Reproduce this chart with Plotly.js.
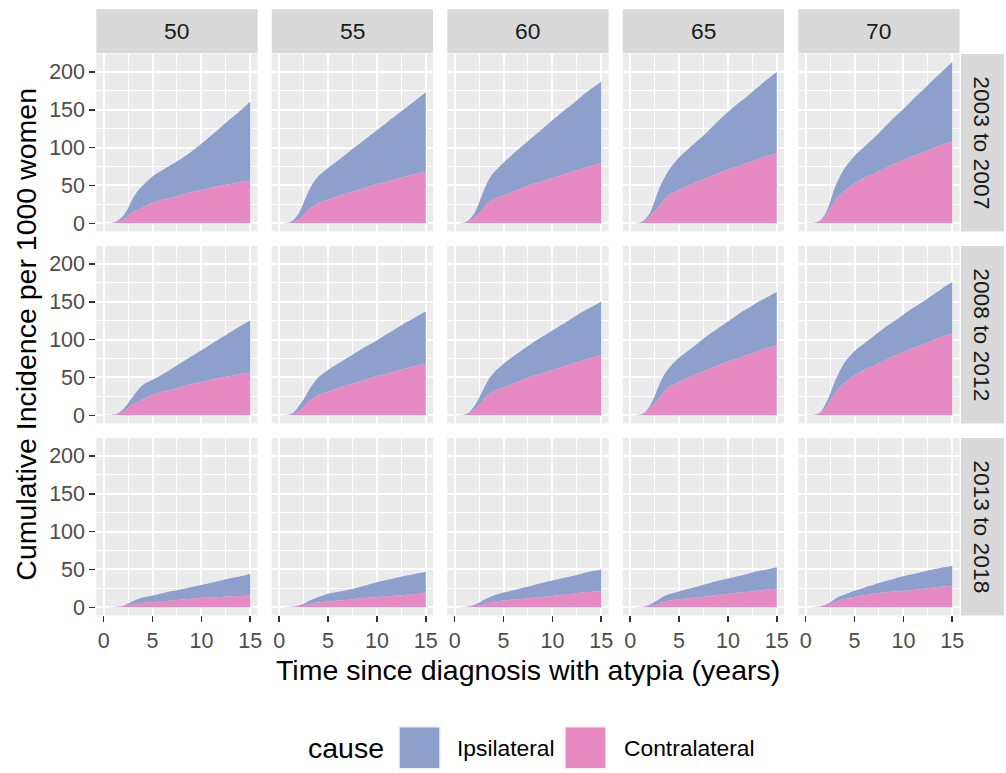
<!DOCTYPE html>
<html>
<head>
<meta charset="utf-8">
<script src="https://cdn.plot.ly/plotly-3.0.1.min.js"></script>
<style>
  html, body { margin: 0; padding: 0; background: #ffffff; }
  #chart { width: 1006px; height: 773px; }
</style>
</head>
<body>
<div id="chart"></div>
<script>
// ---------------- data ----------------
const timeYears = [0, 1, 1.5, 2, 2.5, 3, 3.5, 4, 5, 6, 7, 8, 9, 10, 11, 12, 13, 14, 15];
const ageAtDiagnosis = ['50', '55', '60', '65', '70'];
const diagnosisPeriods = ['2003 to 2007', '2008 to 2012', '2013 to 2018'];
const causeNames = ['Ipsilateral', 'Contralateral'];

// cumulative incidence per 1000 women, one row per age column
const contralateral2003 = [
  [0, 0.5, 2, 5, 10, 15, 18, 21, 27, 31, 34, 38, 41, 44, 47, 50, 52, 55, 57],
  [0, 0.5, 2, 5, 11, 18, 23, 27, 31, 36, 40, 44, 48, 52, 55, 59, 62, 65, 68],
  [0, 0.5, 3, 7, 13, 21, 28, 32, 37, 42, 47, 52, 56, 60, 64, 68, 72, 76, 80],
  [0, 0.5, 3, 9, 16, 23, 31, 38, 44, 50, 56, 61, 66, 71, 75, 80, 84, 89, 93],
  [0, 1, 3, 9, 19, 29, 37, 43, 53, 60, 66, 72, 78, 84, 89, 94, 99, 104, 108]
];
const ipsilateral2003 = [
  [0, 0.5, 2, 5, 10, 18, 25, 29, 35, 39, 44, 48, 54, 61, 69, 77, 86, 94, 104],
  [0, 0.5, 3, 8, 16, 24, 31, 35, 42, 47, 53, 59, 65, 71, 78, 84, 91, 98, 105],
  [0, 0.5, 2, 6, 14, 23, 30, 35, 43, 50, 56, 62, 69, 76, 83, 89, 96, 102, 107],
  [0, 0.5, 2, 4, 13, 24, 29, 33, 43, 49, 54, 61, 69, 76, 83, 88, 95, 101, 107],
  [0, 0, 1, 3, 9, 19, 25, 30, 36, 41, 47, 54, 61, 67, 75, 82, 90, 97, 105]
];
const contralateral2008 = [
  [0, 0.5, 2, 5, 10, 15, 18, 21, 27, 31, 34, 38, 41, 44, 47, 50, 52, 55, 57],
  [0, 0.5, 2, 5, 11, 18, 23, 27, 31, 36, 40, 44, 48, 52, 55, 59, 62, 65, 68],
  [0, 0.5, 3, 7, 13, 21, 28, 32, 37, 42, 47, 52, 56, 60, 64, 68, 72, 76, 80],
  [0, 0.5, 3, 9, 16, 23, 31, 38, 44, 50, 56, 61, 66, 71, 75, 80, 84, 89, 93],
  [0, 1, 3, 9, 19, 29, 37, 43, 53, 60, 66, 72, 78, 84, 89, 94, 99, 104, 108]
];
const ipsilateral2008 = [
  [0, 0.5, 1, 3, 6, 10, 15, 19, 20, 23, 28, 32, 37, 42, 47, 52, 58, 63, 68],
  [0, 0.5, 2, 7, 10, 14, 19, 23, 29, 32, 36, 40, 44, 47, 52, 56, 61, 65, 69],
  [0, 0.5, 1, 5, 10, 15, 20, 24, 31, 36, 40, 44, 48, 52, 56, 60, 64, 67, 70],
  [0, 0.5, 1, 3, 9, 18, 23, 25, 32, 36, 40, 45, 49, 53, 58, 61, 65, 67, 70],
  [0, 0, 1, 5, 9, 16, 22, 27, 32, 35, 39, 43, 46, 49, 53, 56, 60, 64, 68]
];
const contralateral2013 = [
  [0, 0.3, 0.7, 1.5, 3, 4, 5, 6, 7, 8, 9, 10.5, 11.5, 12.5, 13, 13.5, 14.5, 15, 15.5],
  [0, 0.3, 0.7, 1.5, 2.2, 4, 5.3, 6.3, 7.6, 9, 10, 11.5, 12.5, 13.5, 14.5, 15.5, 16.5, 17.5, 18.5],
  [0, 0.3, 0.8, 1.5, 2.7, 4.5, 6, 7.5, 9, 10.2, 11.5, 12.5, 13.8, 15, 16.5, 18, 19.5, 20.5, 21.8],
  [0, 0.3, 1, 2, 3, 5.5, 7.5, 9, 10.7, 12, 13.3, 14.7, 16.5, 18, 19.5, 20.5, 22, 23.5, 25],
  [0, 0.3, 1, 2.5, 4.5, 7, 9.5, 11, 14, 16, 18, 19.8, 21, 22, 23, 24.5, 26, 27.5, 29]
];
const ipsilateral2013 = [
  [0, 0.2, 0.3, 0.5, 2, 4, 6, 7, 8.5, 10.5, 12.5, 13.5, 15.5, 17, 19.5, 22, 24, 26, 28.5],
  [0, 0.2, 0.3, 1, 2.3, 4, 5.7, 7.2, 10.4, 11.5, 13, 14.5, 17, 19.5, 21.5, 23.5, 25.5, 27, 28.5],
  [0, 0.2, 0.7, 1.5, 3.3, 5.5, 7, 8, 10.5, 12.3, 14.5, 16.5, 18.7, 20.5, 22, 23.5, 25, 27, 28.2],
  [0, 0.2, 0.5, 1.5, 4, 5.5, 7.5, 8.5, 10.3, 12.5, 14.7, 16.8, 18.5, 20, 21.5, 23.5, 25.5, 26.5, 28],
  [0, 0.2, 0.5, 1, 2, 4, 5, 6, 8, 10, 12, 14.2, 16.5, 19, 21, 22.5, 24, 25, 26]
];
const xTickVals = [0, 5, 10, 15];
const yTickVals = [0, 50, 100, 150, 200];

// ---------------- styling / geometry ----------------
const W = 1006, H = 773;
const FONT = 'Liberation Sans, Arial, Helvetica, sans-serif';
const COL_IPSI = '#8DA0CB', COL_CONTRA = '#E78AC3';
const PANEL_LEFT0 = 96.3, PANEL_PITCH = 175.5, PANEL_W = 161.3;
const ROW_TOP = [54, 246, 438], PANEL_H = 177.4;
const STRIP_TOP = 9.3, STRIP_BOTTOM = 53.3;
const RSTRIP_L = 961, RSTRIP_R = 1004;
const TICK_FONT = 21.5;

const contraByPeriod = [contralateral2003, contralateral2008, contralateral2013];
const ipsiByPeriod = [ipsilateral2003, ipsilateral2008, ipsilateral2013];

const px = v => v / W;
const py = v => 1 - v / H;

// y range like ggplot (5% expansion of the stacked data range)
let yMax = 0;
contraByPeriod.forEach((rows, r) => rows.forEach((arr, c) => arr.forEach((v, i) => {
  yMax = Math.max(yMax, v + ipsiByPeriod[r][c][i]);
})));
const xMin = Math.min(...timeYears), xMax = Math.max(...timeYears);
const xPad = (xMax - xMin) * 0.05;
const xRange = [xMin - xPad, xMax + xPad];
const yRange = [-0.05 * yMax, 1.05 * yMax];

const traces = [];
const layout = {
  width: W, height: H, autosize: false,
  margin: {l: 0, r: 0, t: 0, b: 0, pad: 0},
  paper_bgcolor: '#FFFFFF', plot_bgcolor: '#EBEBEB',
  font: {family: FONT, color: '#000000'},
  showlegend: false,
  shapes: [], annotations: []
};

for (let r = 0; r < 3; r++) {
  for (let c = 0; c < 5; c++) {
    const k = r * 5 + c + 1;
    const xa = k === 1 ? 'x' : 'x' + k;
    const ya = k === 1 ? 'y' : 'y' + k;
    const left = PANEL_LEFT0 + c * PANEL_PITCH;
    const top = ROW_TOP[r];
    layout[k === 1 ? 'xaxis' : 'xaxis' + k] = {
      anchor: ya, domain: [px(left), px(left + PANEL_W)], range: xRange,
      tickmode: 'array', tickvals: xTickVals, ticktext: xTickVals.map(String),
      showgrid: true, gridcolor: '#FFFFFF', gridwidth: 2,
      minor: {dtick: 2.5, tick0: 0, showgrid: true, gridcolor: '#FFFFFF', gridwidth: 1, ticks: ''},
      zeroline: false, showline: false,
      ticks: r === 2 ? 'outside' : '', ticklen: 6, tickwidth: 1.6, tickcolor: '#333333',
      showticklabels: r === 2, tickfont: {family: FONT, size: TICK_FONT, color: '#4D4D4D'},
      fixedrange: true
    };
    layout[k === 1 ? 'yaxis' : 'yaxis' + k] = {
      anchor: xa, domain: [py(top + PANEL_H), py(top)], range: yRange,
      tickmode: 'array', tickvals: yTickVals, ticktext: yTickVals.map(String),
      showgrid: true, gridcolor: '#FFFFFF', gridwidth: 2,
      minor: {dtick: 25, tick0: 0, showgrid: true, gridcolor: '#FFFFFF', gridwidth: 1, ticks: ''},
      zeroline: false, showline: false,
      ticks: c === 0 ? 'outside' : '', ticklen: 6, tickwidth: 1.6, tickcolor: '#333333',
      showticklabels: c === 0, tickfont: {family: FONT, size: TICK_FONT, color: '#4D4D4D'},
      fixedrange: true
    };
    // stacked areas: contralateral at the bottom, ipsilateral on top
    traces.push({
      type: 'scatter', mode: 'lines', x: timeYears, y: contraByPeriod[r][c],
      xaxis: xa, yaxis: ya, stackgroup: 'g' + k, name: causeNames[1],
      line: {width: 0, color: COL_CONTRA, shape: 'spline', smoothing: 0.7},
      fillcolor: COL_CONTRA, hoverinfo: 'skip'
    });
    traces.push({
      type: 'scatter', mode: 'lines', x: timeYears, y: ipsiByPeriod[r][c],
      xaxis: xa, yaxis: ya, stackgroup: 'g' + k, name: causeNames[0],
      line: {width: 0, color: COL_IPSI, shape: 'spline', smoothing: 0.7},
      fillcolor: COL_IPSI, hoverinfo: 'skip'
    });
  }
}

// top strips
ageAtDiagnosis.forEach((lab, c) => {
  const left = PANEL_LEFT0 + c * PANEL_PITCH;
  layout.shapes.push({type: 'rect', xref: 'paper', yref: 'paper', layer: 'below',
    x0: px(left), x1: px(left + PANEL_W), y0: py(STRIP_BOTTOM), y1: py(STRIP_TOP),
    fillcolor: '#D9D9D9', line: {width: 0}});
  layout.annotations.push({xref: 'paper', yref: 'paper', x: px(left + PANEL_W / 2),
    y: py((STRIP_TOP + STRIP_BOTTOM) / 2), text: lab, showarrow: false,
    xanchor: 'center', yanchor: 'middle', font: {family: FONT, size: 22.8, color: '#1A1A1A'}});
});
// right strips
diagnosisPeriods.forEach((lab, r) => {
  const top = ROW_TOP[r];
  layout.shapes.push({type: 'rect', xref: 'paper', yref: 'paper', layer: 'below',
    x0: px(RSTRIP_L), x1: px(RSTRIP_R), y0: py(top + PANEL_H), y1: py(top),
    fillcolor: '#D9D9D9', line: {width: 0}});
  layout.annotations.push({xref: 'paper', yref: 'paper', x: px((RSTRIP_L + RSTRIP_R) / 2),
    y: py(top + PANEL_H / 2), text: lab, showarrow: false, textangle: 90,
    xanchor: 'center', yanchor: 'middle', font: {family: FONT, size: 22.8, color: '#1A1A1A'}});
});

// axis titles
layout.annotations.push({xref: 'paper', yref: 'paper',
  x: px(PANEL_LEFT0 + (4 * PANEL_PITCH + PANEL_W) / 2), y: py(670),
  text: 'Time since diagnosis with atypia (years)', showarrow: false,
  xanchor: 'center', yanchor: 'middle', font: {family: FONT, size: 28.5, color: '#000000'}});
layout.annotations.push({xref: 'paper', yref: 'paper', x: px(26),
  y: py((ROW_TOP[0] + ROW_TOP[2] + PANEL_H) / 2),
  text: 'Cumulative Incidence per 1000 women', showarrow: false, textangle: -90,
  xanchor: 'center', yanchor: 'middle', font: {family: FONT, size: 28.5, color: '#000000'}});

// legend (drawn like ggplot's bottom legend)
const LEG_CY = 747.7;
layout.annotations.push({xref: 'paper', yref: 'paper', x: px(305.5), y: py(LEG_CY),
  text: 'cause', showarrow: false, xanchor: 'left', yanchor: 'middle',
  font: {family: FONT, size: 28.5, color: '#000000'}});
const legendKeys = [
  {left: 398.3, color: COL_IPSI, label: causeNames[0], labelLeft: 455},
  {left: 564.2, color: COL_CONTRA, label: causeNames[1], labelLeft: 621.5}
];
legendKeys.forEach(k => {
  layout.shapes.push({type: 'rect', xref: 'paper', yref: 'paper',
    x0: px(k.left), x1: px(k.left + 42.5), y0: py(LEG_CY + 21.7), y1: py(LEG_CY - 21.7),
    fillcolor: '#F2F2F2', line: {width: 0}});
  layout.shapes.push({type: 'rect', xref: 'paper', yref: 'paper',
    x0: px(k.left + 1.5), x1: px(k.left + 41), y0: py(LEG_CY + 20.2), y1: py(LEG_CY - 20.2),
    fillcolor: k.color, line: {width: 0}});
  layout.annotations.push({xref: 'paper', yref: 'paper', x: px(k.labelLeft), y: py(LEG_CY),
    text: k.label, showarrow: false, xanchor: 'left', yanchor: 'middle',
    font: {family: FONT, size: 22.8, color: '#000000'}});
});

Plotly.newPlot('chart', traces, layout, {staticPlot: true, displayModeBar: false});
</script>
</body>
</html>
